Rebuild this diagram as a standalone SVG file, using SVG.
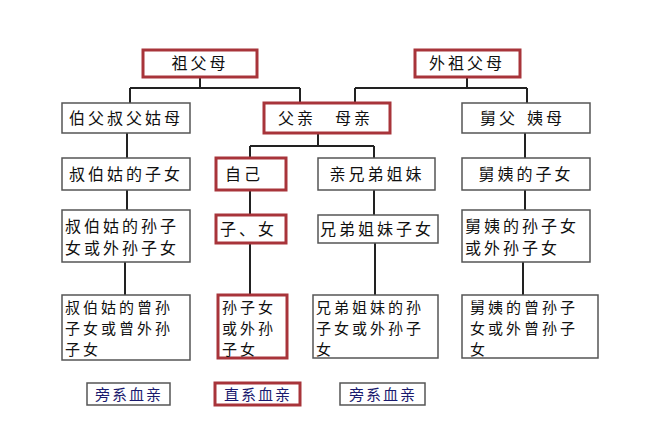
<svg xmlns="http://www.w3.org/2000/svg" width="655" height="426" viewBox="0 0 655 426">
<style>
.b{fill:#fff;stroke:#555;stroke-width:1.5}
.r{fill:#fff;stroke:#a8343a;stroke-width:3}
.t{font-family:"Noto Sans CJK SC",sans-serif;font-size:16px;fill:#111;letter-spacing:3px}
.s{font-family:"Noto Sans CJK SC",sans-serif;font-size:15px;fill:#111;letter-spacing:3px}
.l{font-family:"Noto Sans CJK SC",sans-serif;font-size:15px;fill:#1a1a6e;letter-spacing:2px}
.c{stroke:#222;stroke-width:2;fill:none}
</style>
<rect width="655" height="426" fill="#fff"/>
<g id="connectors">
<path class="c" d="M200 77V88M130 88H300M130 88V103M300 88V103"/>
<path class="c" d="M467 77V88M355 88H527M355 88V103M527 88V103"/>
<path class="c" d="M318 133V146M250 146H374M250 146V158M374 146V158"/>
<path class="c" d="M127 133V158M127 190V210M125 262V295"/>
<path class="c" d="M250 190V215M250 243V295"/>
<path class="c" d="M374 190V215M375 243V295"/>
<path class="c" d="M525 133V158M525 190V210M523 262V295"/>
</g>
<g id="n1"><rect class="r" x="143" y="50" width="114" height="27"/><text class="t" x="200" y="69" text-anchor="middle">祖父母</text></g>
<g id="n2"><rect class="r" x="415" y="50" width="105" height="27"/><text class="t" x="467" y="69" text-anchor="middle">外祖父母</text></g>
<g id="n3"><rect class="b" x="62" y="103" width="128" height="30"/><text class="t" x="126" y="124" text-anchor="middle">伯父叔父姑母</text></g>
<g id="n4"><rect class="r" x="264" y="103" width="126" height="30"/><text class="t" x="278" y="124">父亲</text><text class="t" x="335" y="124">母亲</text></g>
<g id="n5"><rect class="b" x="462" y="103" width="128" height="30"/><text class="t" x="480" y="124">舅父</text><text class="t" x="527" y="124">姨母</text></g>
<g id="n6"><rect class="b" x="62" y="158" width="128" height="32"/><text class="t" x="126" y="180" text-anchor="middle">叔伯姑的子女</text></g>
<g id="n7"><rect class="r" x="216" y="158" width="70" height="32"/><text class="t" x="225" y="180">自己</text></g>
<g id="n8"><rect class="b" x="318" y="158" width="117" height="32"/><text class="t" x="377" y="180" text-anchor="middle">亲兄弟姐妹</text></g>
<g id="n9"><rect class="b" x="462" y="158" width="128" height="32"/><text class="t" x="526" y="180" text-anchor="middle">舅姨的子女</text></g>
<g id="n10"><rect class="b" x="62" y="210" width="128" height="52"/><text class="t" x="65" y="232">叔伯姑的孙子</text><text class="t" x="65" y="254">女或外孙子女</text></g>
<g id="n11"><rect class="r" x="216" y="215" width="70" height="28"/><text class="t" x="220" y="235">子、女</text></g>
<g id="n12"><rect class="b" x="318" y="215" width="120" height="28"/><text class="t" x="320" y="235" letter-spacing="1">兄弟姐妹子女</text></g>
<g id="n13"><rect class="b" x="462" y="210" width="128" height="52"/><text class="t" x="465" y="232">舅姨的孙子女</text><text class="t" x="465" y="254">或外孙子女</text></g>
<g id="n14"><rect class="b" x="62" y="295" width="128" height="65"/><text class="s" x="65" y="313">叔伯姑的曾孙</text><text class="s" x="65" y="334">子女或曾外孙</text><text class="s" x="65" y="355">子女</text></g>
<g id="n15"><rect class="r" x="218" y="295" width="69" height="63"/><text class="s" x="222" y="313">孙子女</text><text class="s" x="222" y="334">或外孙</text><text class="s" x="222" y="355">子女</text></g>
<g id="n16"><rect class="b" x="313" y="295" width="125" height="63"/><text class="s" x="316" y="313">兄弟姐妹的孙</text><text class="s" x="316" y="334">子女或外孙子</text><text class="s" x="316" y="355">女</text></g>
<g id="n17"><rect class="b" x="462" y="295" width="136" height="63"/><text class="s" x="470" y="313">舅姨的曾孙子</text><text class="s" x="470" y="334">女或外曾孙子</text><text class="s" x="470" y="355">女</text></g>
<g id="lab1"><rect class="b" x="87" y="383" width="83" height="22" stroke-width="1"/><text class="l" x="129" y="400" text-anchor="middle">旁系血亲</text></g>
<g id="lab2"><rect class="r" x="215" y="383" width="85" height="22"/><text class="l" x="258" y="400" text-anchor="middle">直系血亲</text></g>
<g id="lab3"><rect class="b" x="340" y="383" width="85" height="22" stroke-width="1"/><text class="l" x="383" y="400" text-anchor="middle">旁系血亲</text></g>
</svg>
